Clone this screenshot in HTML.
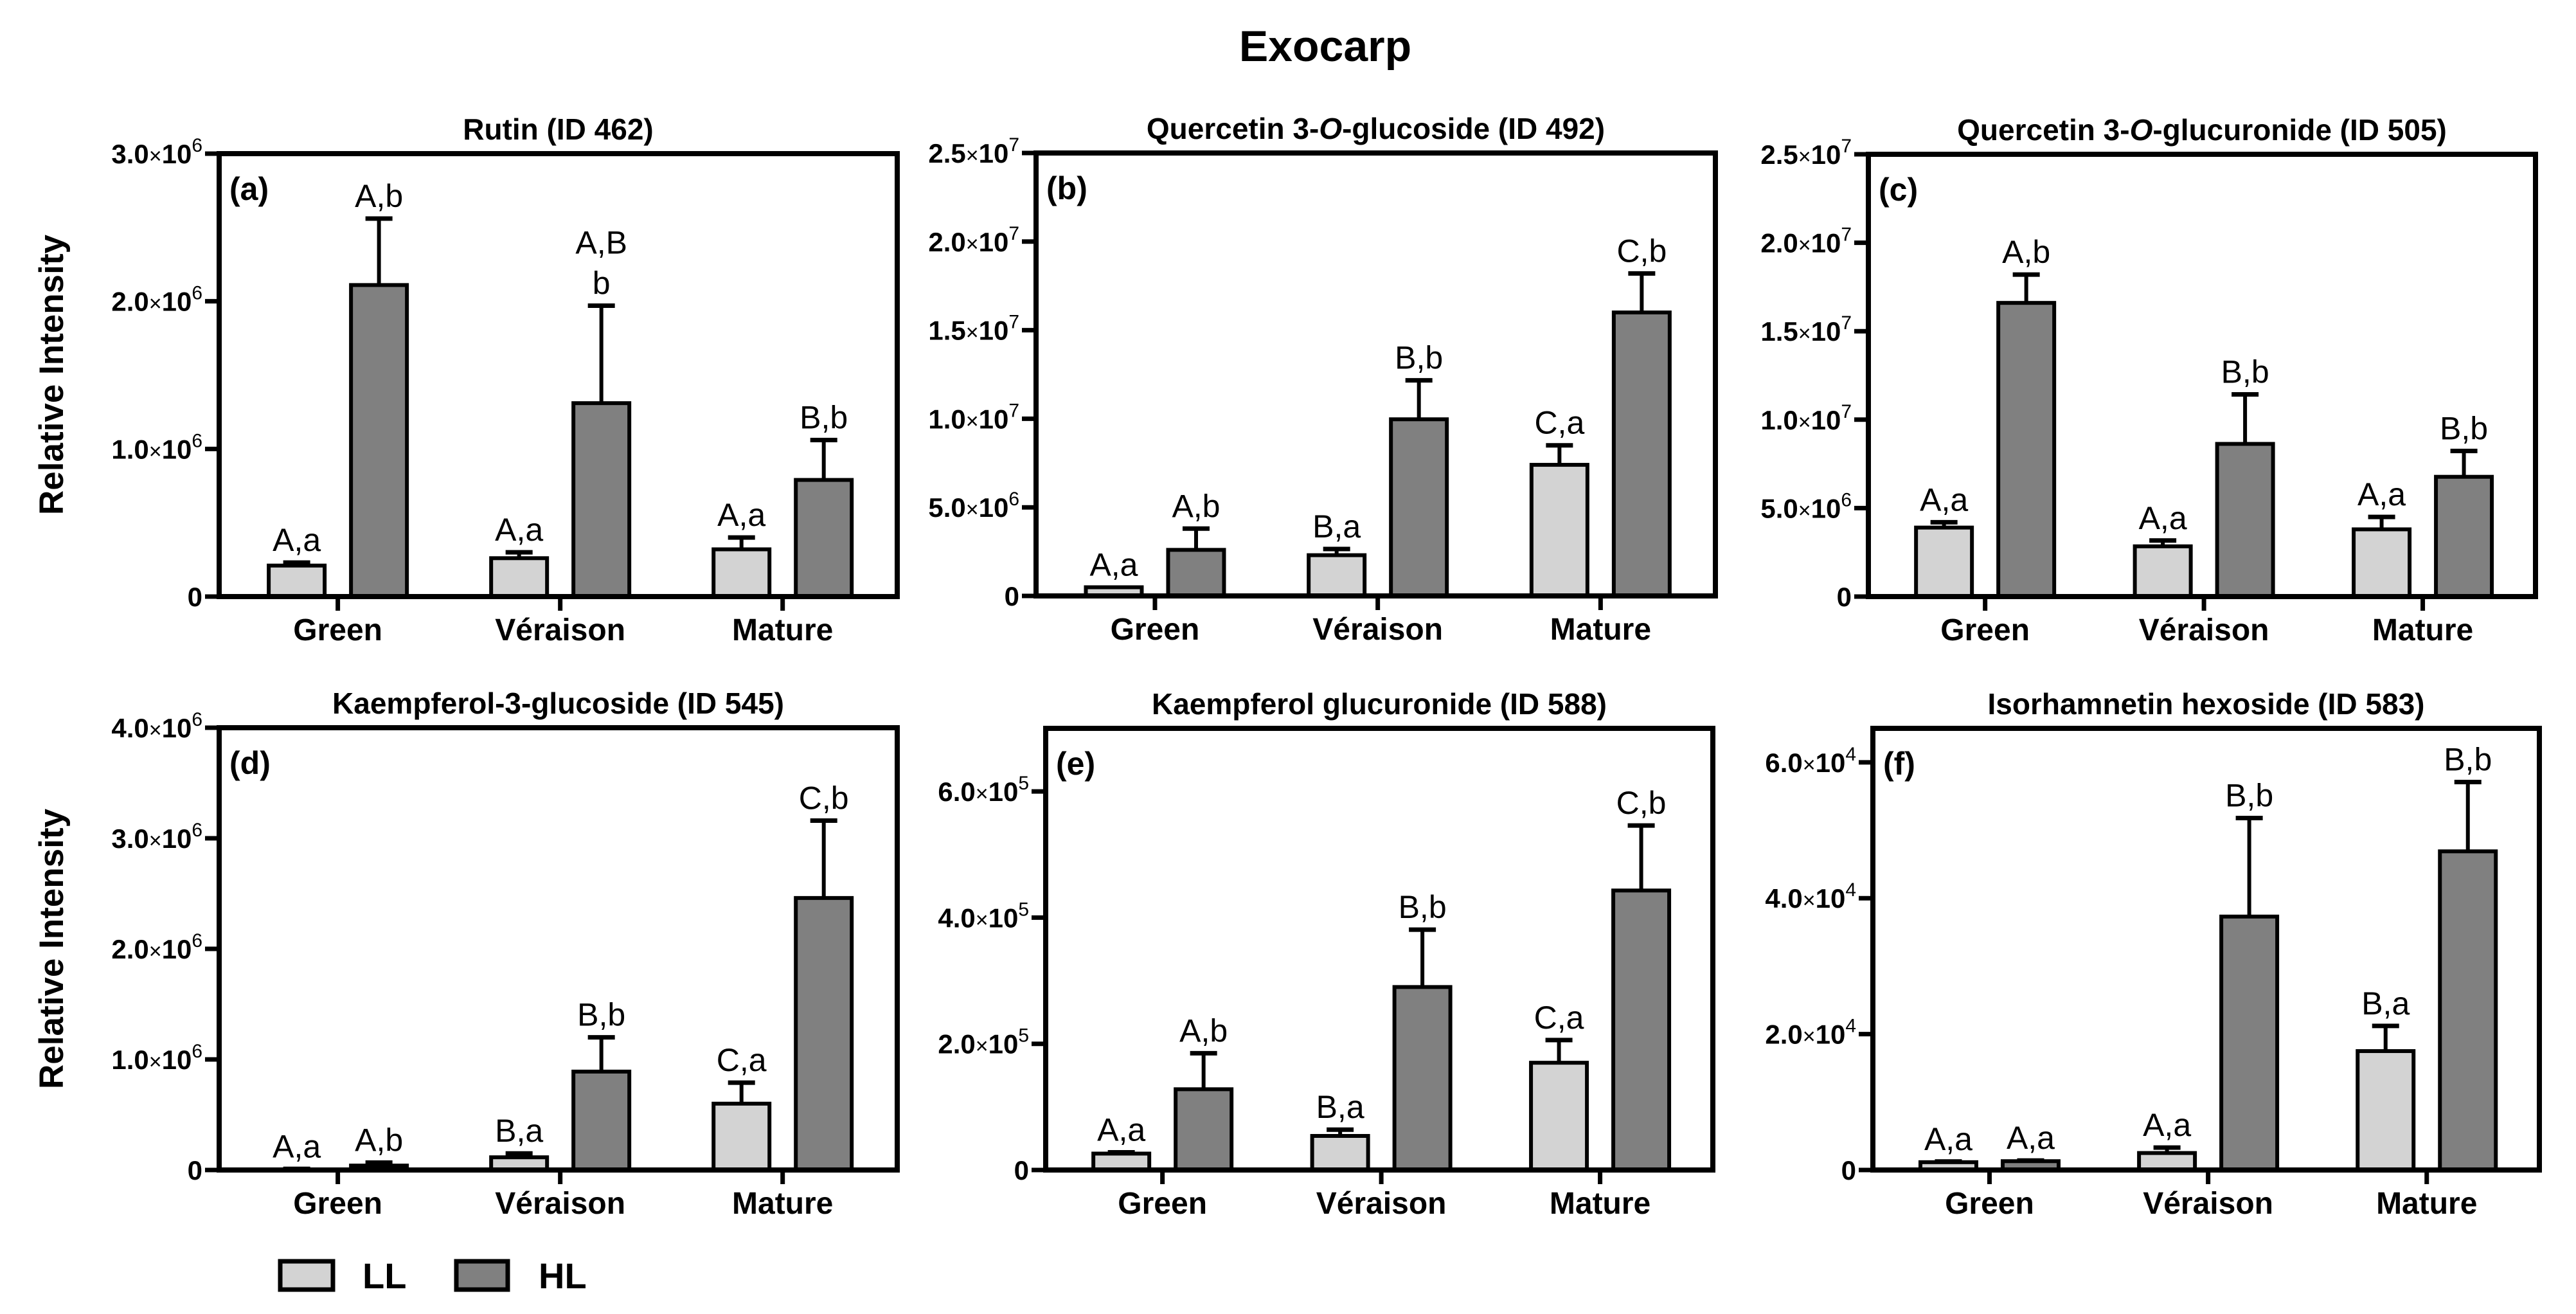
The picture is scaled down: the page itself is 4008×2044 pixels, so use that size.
<!DOCTYPE html>
<html><head><meta charset="utf-8"><style>
html,body{margin:0;padding:0;background:#fff;}
svg{display:block;font-family:"Liberation Sans",Arial,sans-serif;}
</style></head>
<body>
<svg id="fig" width="4008" height="2044" viewBox="0 0 4008 2044" xmlns="http://www.w3.org/2000/svg">
<rect width="4008" height="2044" fill="#fff"/>
<text x="2062" y="95" font-size="68" font-weight="bold" text-anchor="middle">Exocarp</text>
<text transform="translate(98,583) rotate(-90)" font-size="53" font-weight="bold" text-anchor="middle">Relative Intensity</text>
<text transform="translate(98,1476) rotate(-90)" font-size="53" font-weight="bold" text-anchor="middle">Relative Intensity</text>
<g>
<rect x="436" y="1962" width="82" height="44" fill="#d3d3d3" stroke="#000" stroke-width="7"/>
<text x="564" y="2004" font-size="56" font-weight="bold">LL</text>
<rect x="710" y="1962" width="80" height="44" fill="#808080" stroke="#000" stroke-width="7"/>
<text x="838" y="2004" font-size="56" font-weight="bold">HL</text>
</g>
</svg>
<script>
const categories = ['Green','Véraison','Mature'];

const rutinLL = [0.21e6, 0.26e6, 0.32e6];
const rutinLLErr = [0.02e6, 0.04e6, 0.08e6];
const rutinHL = [2.11e6, 1.31e6, 0.79e6];
const rutinHLErr = [0.45e6, 0.66e6, 0.27e6];
const rutinLLLabels = ['A,a','A,a','A,a'];
const rutinHLLabels = ['A,b','A,B|b','B,b'];

const q492LL = [0.49e6, 2.3e6, 7.4e6];
const q492LLErr = [0, 0.35e6, 1.1e6];
const q492HL = [2.6e6, 9.97e6, 16.0e6];
const q492HLErr = [1.2e6, 2.2e6, 2.2e6];
const q492LLLabels = ['A,a','B,a','C,a'];
const q492HLLabels = ['A,b','B,b','C,b'];

const q505LL = [3.9e6, 2.84e6, 3.8e6];
const q505LLErr = [0.3e6, 0.33e6, 0.7e6];
const q505HL = [16.6e6, 8.63e6, 6.77e6];
const q505HLErr = [1.6e6, 2.8e6, 1.46e6];
const q505LLLabels = ['A,a','A,a','A,a'];
const q505HLLabels = ['A,b','B,b','B,b'];

const k545LL = [0.005e6, 0.115e6, 0.60e6];
const k545LLErr = [0.005e6, 0.035e6, 0.19e6];
const k545HL = [0.04e6, 0.89e6, 2.46e6];
const k545HLErr = [0.027e6, 0.31e6, 0.70e6];
const k545LLLabels = ['A,a','B,a','C,a'];
const k545HLLabels = ['A,b','B,b','C,b'];

const k588LL = [0.26e5, 0.54e5, 1.70e5];
const k588LLErr = [0.02e5, 0.10e5, 0.36e5];
const k588HL = [1.28e5, 2.9e5, 4.43e5];
const k588HLErr = [0.57e5, 0.91e5, 1.03e5];
const k588LLLabels = ['A,a','B,a','C,a'];
const k588HLLabels = ['A,b','B,b','C,b'];

const i583LL = [0.115e4, 0.25e4, 1.75e4];
const i583LLErr = [0.01e4, 0.08e4, 0.37e4];
const i583HL = [0.13e4, 3.73e4, 4.69e4];
const i583HLErr = [0.01e4, 1.45e4, 1.02e4];
const i583LLLabels = ['A,a','A,a','B,a'];
const i583HLLabels = ['A,a','B,b','B,b'];

const ticksA = [0, 1e6, 2e6, 3e6];
const ticksB = [0, 5e6, 10e6, 15e6, 20e6, 25e6];
const ticksD = [0, 1e6, 2e6, 3e6, 4e6];
const ticksE = [0, 2e5, 4e5, 6e5];
const ticksF = [0, 2e4, 4e4, 6e4];

const panels = [
 {id:'a', title:'Rutin (ID 462)', L:341,R:1396,T:239,B:928, ymax:3e6, ticks:ticksA, ll:rutinLL, llE:rutinLLErr, hl:rutinHL, hlE:rutinHLErr, llL:rutinLLLabels, hlL:rutinHLLabels},
 {id:'b', title:'Quercetin 3-|O|-glucoside (ID 492)', L:1612,R:2669,T:238,B:927, ymax:2.5e7, ticks:ticksB, ll:q492LL, llE:q492LLErr, hl:q492HL, hlE:q492HLErr, llL:q492LLLabels, hlL:q492HLLabels},
 {id:'c', title:'Quercetin 3-|O|-glucuronide (ID 505)', L:2907,R:3945,T:240,B:928, ymax:2.5e7, ticks:ticksB, ll:q505LL, llE:q505LLErr, hl:q505HL, hlE:q505HLErr, llL:q505LLLabels, hlL:q505HLLabels},
 {id:'d', title:'Kaempferol-3-glucoside (ID 545)', L:341,R:1396,T:1132,B:1820, ymax:4e6, ticks:ticksD, ll:k545LL, llE:k545LLErr, hl:k545HL, hlE:k545HLErr, llL:k545LLLabels, hlL:k545HLLabels},
 {id:'e', title:'Kaempferol glucuronide (ID 588)', L:1627,R:2665,T:1133,B:1820, ymax:7e5, ticks:ticksE, ll:k588LL, llE:k588LLErr, hl:k588HL, hlE:k588HLErr, llL:k588LLLabels, hlL:k588HLLabels},
 {id:'f', title:'Isorhamnetin hexoside (ID 583)', L:2914,R:3951,T:1133,B:1820, ymax:6.5e4, ticks:ticksF, ll:i583LL, llE:i583LLErr, hl:i583HL, hlE:i583HLErr, llL:i583LLLabels, hlL:i583HLLabels}
];

const NS = 'http://www.w3.org/2000/svg';
const svg = document.getElementById('fig');
function mk(tag, attrs, parent){
  const e = document.createElementNS(NS, tag);
  for (const k in attrs) e.setAttribute(k, attrs[k]);
  (parent||svg).appendChild(e);
  return e;
}
function tickParts(v){
  if (v === 0) return null;
  const exp = Math.floor(Math.log10(v));
  const m = v / Math.pow(10, exp);
  return [m.toFixed(1), String(exp)];
}

panels.forEach(p => {
  const g = mk('g', {});
  
  
  const W = p.R - p.L;
  const y = v => p.B - (v / p.ymax) * (p.B - p.T);
  const xc = i => p.L + W * (0.175 + i * 0.328);

  const t = mk('text', {x:(p.L+p.R)/2, y:p.T-22, 'font-size':46, 'font-weight':'bold', 'text-anchor':'middle'}, g);
  
  
  p.title.split('|').forEach((s, k) => {
    const ts = mk('tspan', {}, t);
    if (k === 1) ts.setAttribute('font-style', 'italic');
    ts.textContent = s;
  });
  const pl = mk('text', {x:p.L+16, y:p.T+72, 'font-size':50, 'font-weight':'bold'}, g);
  
  
  pl.textContent = '(' + p.id + ')';

  p.ticks.forEach(v => {
    const yy = y(v);
    const tk = mk('line', {x1:p.L-22, x2:p.L, y1:yy, y2:yy, stroke:'#000', 'stroke-width':7}, g);
    
    
    const tl = mk('text', {x:p.L-26, y:yy+15, 'font-size':42, 'font-weight':'bold', 'text-anchor':'end'}, g);
    
    
    const parts = tickParts(v);
    if (!parts) { tl.textContent = '0'; }
    else {
      const a = mk('tspan', {}, tl); a.textContent = parts[0];
      const b = mk('tspan', {'font-weight':'normal', 'font-size':34}, tl); b.textContent = '×';
      const b2 = mk('tspan', {}, tl); b2.textContent = '10';
      const c = mk('tspan', {dy:-18, 'font-size':30, 'font-weight':'normal'}, tl); c.textContent = parts[1];
    }
  });

  const bw = 87, off = 64;
  const drawBar = (val, err, lab, cx, fill, series, i) => {
    const top = y(val);
    const r = mk('rect', {x:cx-bw/2, y:top, width:bw, height:Math.max(p.B-top,0), fill:fill, stroke:'#000', 'stroke-width':6}, g);
    
    
    const et = y(val + err);
    if (err > 0) {
      const el = mk('line', {x1:cx, x2:cx, y1:top, y2:et, stroke:'#000', 'stroke-width':6}, g);
      
      
      const ec = mk('line', {x1:cx-21, x2:cx+21, y1:et, y2:et, stroke:'#000', 'stroke-width':7}, g);
      
      
    }
    const lines = lab.split('|');
    lines.forEach((s, k) => {
      const tx = mk('text', {x:cx, y:et - 18 - (lines.length-1-k)*63, 'font-size':50, 'text-anchor':'middle'}, g);
      
      
      tx.textContent = s;
    });
  };
  categories.forEach((c, i) => {
    drawBar(p.ll[i], p.llE[i], p.llL[i], xc(i)-off, '#d3d3d3', 'll', i);
    drawBar(p.hl[i], p.hlE[i], p.hlL[i], xc(i)+off, '#808080', 'hl', i);
    const tk = mk('line', {x1:xc(i), x2:xc(i), y1:p.B, y2:p.B+22, stroke:'#000', 'stroke-width':7}, g);
    
    
    const cl = mk('text', {x:xc(i), y:p.B+68, 'font-size':48, 'font-weight':'bold', 'text-anchor':'middle'}, g);
    
    
    cl.textContent = c;
  });

  const fr = mk('rect', {x:p.L, y:p.T, width:W, height:p.B-p.T, fill:'none', stroke:'#000', 'stroke-width':8}, g);
  
  
});
</script>
</body></html>
